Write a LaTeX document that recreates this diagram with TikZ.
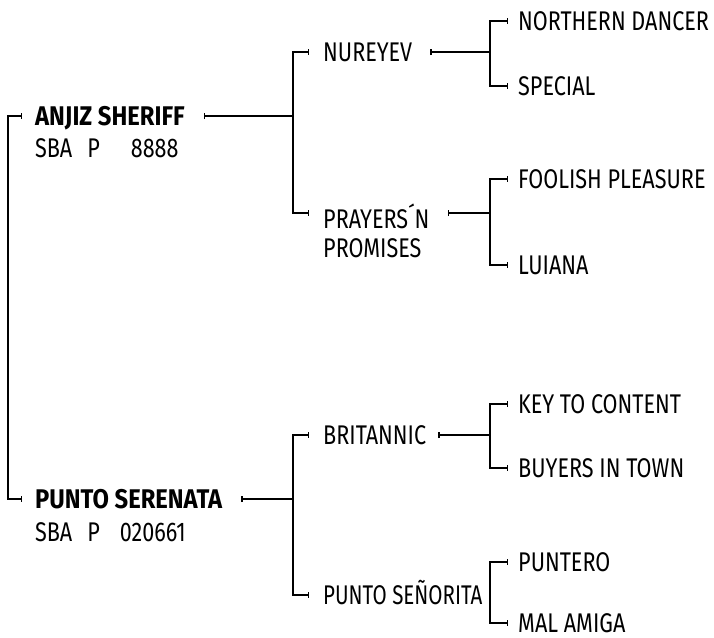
\documentclass[tikz,border=0pt]{standalone}
\usepackage{fontspec}
\setmainfont{Fira Sans}[FakeStretch=0.8, BoldFeatures={FakeStretch=0.88}]
\usetikzlibrary{arrows.meta, positioning}
\tikzset{
  horse/.style={anchor=west, inner sep=0pt, text height=18.6pt, text depth=0pt, font=\fontsize{27}{29}\selectfont},
  sire/.style={horse, font=\fontsize{27}{29}\selectfont\bfseries},
  stem/.style={line width=1.1pt, {Bar[width=6pt]}-},
  fork/.style={line width=1.1pt, {Bar[width=6pt]}-{Bar[width=6pt]}},
}

\begin{document}
\begin{tikzpicture}[x=1pt, y=-1pt]
\useasboundingbox (0,0) rectangle (714,637);
% columns of the forks
\coordinate (gen0) at (8,0);
\coordinate (gen1) at (293,0);
\coordinate (gen2) at (490,0);
% the two parents
\node[sire] (anjiz) at (35,116) {ANJIZ SHERIFF};
\node[horse] (anjizreg) at (35,148) {SBA\hspace{15pt}P\hspace{31pt}8888};
\node[sire] (punto) at (35,499) {PUNTO SERENATA};
\node[horse] (puntoreg) at (35,532) {SBA\hspace{15pt}P\hspace{20pt}020661};
% grandparents
\node[horse] (nureyev) at (323,52) {NUREYEV};
\node[horse, text height={}, text depth={}, anchor=north west, align=left] (prayers) at (323,203.7) {PRAYERS´N\\PROMISES};
\coordinate (prayersln) at ([yshift=-9.3pt]prayers.north east);
\node[horse] (britannic) at (323,435) {BRITANNIC};
\node[horse, font=\fontsize{27}{29}\selectfont\addfontfeature{FakeStretch=0.76}] (senorita) at (323,595) {PUNTO SEÑORITA};
% great-grandparents
\node[horse] (northern) at (518,21) {NORTHERN DANCER};
\node[horse] (special) at (518,86) {SPECIAL};
\node[horse] (foolish) at (518,179) {FOOLISH PLEASURE};
\node[horse] (luiana) at (518,265) {LUIANA};
\node[horse] (keycontent) at (518,404) {KEY TO CONTENT};
\node[horse] (buyers) at (518,468) {BUYERS IN TOWN};
\node[horse] (puntero) at (518,562) {PUNTERO};
\node[horse] (malamiga) at (518,623) {MAL AMIGA};

% first generation
\draw[fork] ([xshift=-13pt]anjiz.west) -| (gen0 |- punto.west) -- ([xshift=-13pt]punto.west);
% second generation
\draw[stem] ([xshift=19pt]anjiz.east) -- (gen1 |- anjiz.east);
\draw[fork] ([xshift=-14pt]nureyev.west) -| (gen1 |- prayersln) -- ([xshift=-14pt,yshift=-9.3pt]prayers.north west);
\draw[stem] ([xshift=19pt]punto.east) -- (gen1 |- punto.east);
\draw[fork] ([xshift=-14pt]britannic.west) -| (gen1 |- senorita.west) -- ([xshift=-14pt]senorita.west);
% third generation
\draw[stem] ([xshift=18pt]nureyev.east) -- (gen2 |- nureyev.east);
\draw[fork] ([xshift=-10pt]northern.west) -| (gen2 |- special.west) -- ([xshift=-10pt]special.west);
\draw[stem] ([xshift=18pt]prayersln) -- (gen2 |- prayersln);
\draw[fork] ([xshift=-10pt]foolish.west) -| (gen2 |- luiana.west) -- ([xshift=-10pt]luiana.west);
\draw[stem] ([xshift=12pt]britannic.east) -- (gen2 |- britannic.east);
\draw[fork] ([xshift=-10pt]keycontent.west) -| (gen2 |- buyers.west) -- ([xshift=-10pt]buyers.west);
\draw[fork] ([xshift=-10pt]puntero.west) -| (gen2 |- malamiga.west) -- ([xshift=-10pt]malamiga.west);
\end{tikzpicture}
\end{document}
